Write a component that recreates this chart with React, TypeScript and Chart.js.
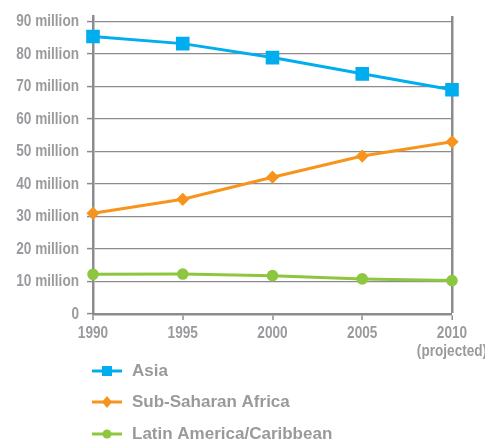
import React, { useEffect, useRef } from "react";
import { Chart, registerables } from "chart.js";

Chart.register(...registerables);

const years: (string | string[])[] = ["1990", "1995", "2000", "2005", ["2010", "(projected)"]];
const seriesNames = ["Asia", "Sub-Saharan Africa", "Latin America/Caribbean"];
const asia = [85.4, 83.2, 78.9, 73.9, 69.0];
const subSaharan = [31.0, 35.3, 42.1, 48.6, 53.0];
const latinAmerica = [12.2, 12.3, 11.8, 10.8, 10.3];
const yTicks = [0, 10, 20, 30, 40, 50, 60, 70, 80, 90];

const GRAY = "#9a9a9e";
const AXIS = "#8c8c90";
const FONT = "'Liberation Sans', Arial, sans-serif";
const SQUEEZE = 0.85;

const yLabel = (v: number) => (v === 0 ? "0" : `${v} million`);

// Draws axis tick labels in a condensed (horizontally squeezed) bold face.
const condensedTicksPlugin = {
  id: "condensedTicks",
  afterDraw(chart: any) {
    const ctx = chart.ctx;
    const xs = chart.scales.x;
    const ys = chart.scales.y;
    ctx.save();
    ctx.fillStyle = GRAY;
    ctx.font = `bold 16px ${FONT}`;
    ctx.textBaseline = "middle";
    ys.ticks.forEach((t: any) => {
      const y = ys.getPixelForValue(t.value);
      ctx.save();
      ctx.translate(ys.right - 14, y + 0.5);
      ctx.scale(SQUEEZE, 1);
      ctx.textAlign = "right";
      ctx.fillText(yLabel(t.value), 0, 0);
      ctx.restore();
    });
    xs.ticks.forEach((t: any, i: number) => {
      const x = xs.getPixelForTick(i);
      const lab = chart.data.labels[i];
      const lines = Array.isArray(lab) ? lab : [lab];
      lines.forEach((line: string, j: number) => {
        ctx.save();
        ctx.translate(x, xs.top + 20 + j * 18);
        ctx.scale(SQUEEZE, 1);
        ctx.textAlign = "center";
        ctx.fillText(line, 0, 0);
        ctx.restore();
      });
    });
    ctx.restore();
  },
};

const legendPlugin = {
  id: "customLegend",
  afterDraw(chart: any) {
    const ctx = chart.ctx;
    const x0 = 92;
    const x1 = 122;
    const ys = [371, 402, 434];
    ctx.save();
    chart.data.datasets.forEach((ds: any, i: number) => {
      const y = ys[i];
      ctx.strokeStyle = ds.borderColor;
      ctx.lineWidth = 3;
      ctx.beginPath();
      ctx.moveTo(x0, y);
      ctx.lineTo(x1, y);
      ctx.stroke();
      ctx.fillStyle = ds.borderColor;
      const cx = (x0 + x1) / 2;
      if (ds.pointStyle === "rect") {
        ctx.fillRect(cx - 5, y - 5, 10, 10);
      } else if (ds.pointStyle === "rectRot") {
        ctx.beginPath();
        ctx.moveTo(cx, y - 6);
        ctx.lineTo(cx + 5, y);
        ctx.lineTo(cx, y + 6);
        ctx.lineTo(cx - 5, y);
        ctx.closePath();
        ctx.fill();
      } else {
        ctx.beginPath();
        ctx.arc(cx, y, 4.5, 0, Math.PI * 2);
        ctx.fill();
      }
      ctx.fillStyle = GRAY;
      ctx.font = `bold 17px ${FONT}`;
      ctx.textBaseline = "middle";
      ctx.textAlign = "left";
      ctx.fillText(ds.label, 132, y);
    });
    ctx.restore();
  },
};

export default function App() {
  const ref = useRef<HTMLCanvasElement | null>(null);
  useEffect(() => {
    document.body.style.margin = "0";
    const canvas = ref.current;
    if (!canvas) return;
    const chart = new Chart(canvas, {
      type: "line",
      data: {
        labels: years,
        datasets: [
          {
            label: seriesNames[0],
            data: asia,
            borderColor: "#00aeef",
            backgroundColor: "#00aeef",
            pointStyle: "rect",
            pointRadius: 7.5,
            pointHoverRadius: 7.5,
            borderWidth: 3,
            clip: false,
          },
          {
            label: seriesNames[1],
            data: subSaharan,
            borderColor: "#f7941d",
            backgroundColor: "#f7941d",
            pointStyle: "rectRot",
            pointRadius: 4.5,
            borderWidth: 3,
            clip: false,
          },
          {
            label: seriesNames[2],
            data: latinAmerica,
            borderColor: "#8dc63f",
            backgroundColor: "#8dc63f",
            pointStyle: "circle",
            pointRadius: 4.3,
            borderWidth: 3,
            clip: false,
          },
        ],
      },
      options: {
        animation: false,
        responsive: false,
        layout: { padding: { left: 0, right: 33, top: 16, bottom: 80 } },
        plugins: { legend: { display: false }, tooltip: { enabled: false } },
        scales: {
          x: {
            type: "category",
            offset: false,
            border: { display: true, color: AXIS, width: 2.5 },
            grid: {
              drawOnChartArea: true,
              color: AXIS,
              lineWidth: (c: any) => (c.index === years.length - 1 ? 2.5 : 0),
              tickWidth: 1.5,
              tickColor: AXIS,
              tickLength: 6,
            },
            ticks: { display: false, autoSkip: false, maxRotation: 0 },
            afterFit: (s: any) => {
              s.height = 46;
            },
          },
          y: {
            min: 0,
            max: 91.7,
            afterBuildTicks: (s: any) => {
              s.ticks = yTicks.map((v) => ({ value: v }));
            },
            border: { display: true, color: AXIS, width: 2.5 },
            grid: {
              color: AXIS,
              lineWidth: 1.2,
              tickLength: 6,
              tickColor: AXIS,
              tickWidth: 1.5,
            },
            ticks: { display: false },
            afterFit: (s: any) => {
              s.width = 93;
            },
          },
        },
      },
      plugins: [condensedTicksPlugin, legendPlugin],
    });
    return () => chart.destroy();
  }, []);
  return <canvas ref={ref} width={485} height={440} style={{ display: "block" }} />;
}
